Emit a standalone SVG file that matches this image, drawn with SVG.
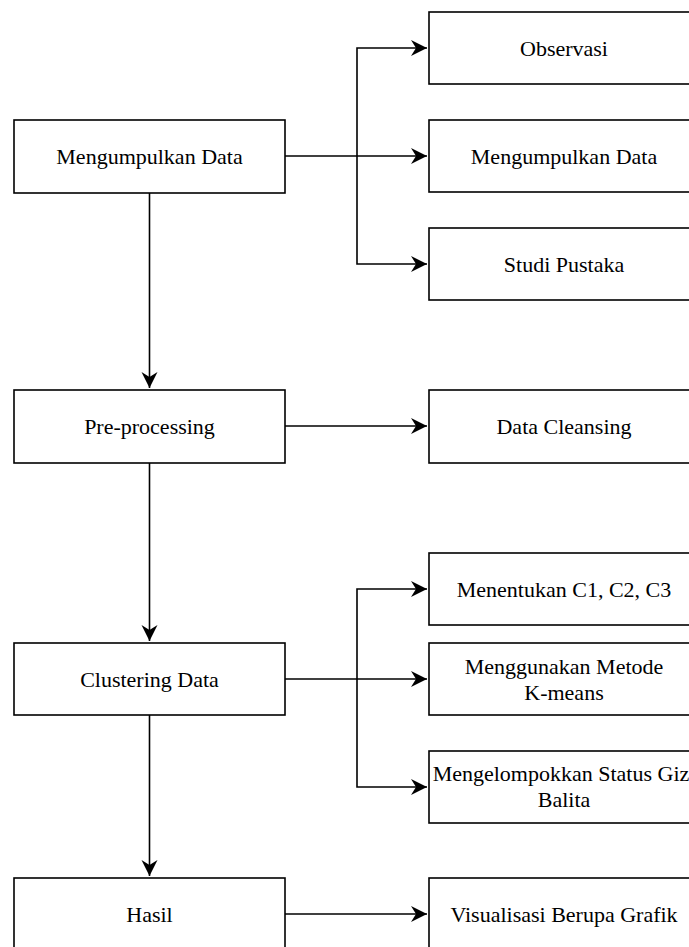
<svg xmlns="http://www.w3.org/2000/svg" width="689" height="947" viewBox="0 0 689 947">
<style>
.box{fill:#fff;stroke:#000;stroke-width:1.6}
.lbl{font-family:"Liberation Serif","Times New Roman",serif;font-size:22px;fill:#000;text-anchor:middle}
.edge{fill:none;stroke:#000;stroke-width:1.6}
</style>
<defs>
<marker id="arr" markerUnits="userSpaceOnUse" markerWidth="18" markerHeight="18" viewBox="-17 -9 18 18" refX="0" refY="0" orient="auto">
<path d="M0,0 L-16,-8 L-11,0 L-16,8 Z" fill="#000"/>
</marker>
</defs>
<rect width="689" height="947" fill="#fff"/>
<g id="connectors">
<path class="edge" d="M285,156 H427" marker-end="url(#arr)"/>
<path class="edge" d="M357,156 V48 H427" marker-end="url(#arr)"/>
<path class="edge" d="M357,156 V264 H427" marker-end="url(#arr)"/>
<path class="edge" d="M149.5,193 V388" marker-end="url(#arr)"/>
<path class="edge" d="M285,426 H427" marker-end="url(#arr)"/>
<path class="edge" d="M149.5,463 V641" marker-end="url(#arr)"/>
<path class="edge" d="M285,679 H427" marker-end="url(#arr)"/>
<path class="edge" d="M357,679 V589 H427" marker-end="url(#arr)"/>
<path class="edge" d="M357,679 V787 H427" marker-end="url(#arr)"/>
<path class="edge" d="M149.5,715 V876" marker-end="url(#arr)"/>
<path class="edge" d="M285,914 H427" marker-end="url(#arr)"/>
</g>
<g id="n-mengumpulkan"><rect class="box" x="14" y="120" width="271" height="73"/><text class="lbl" x="149.5" y="164">Mengumpulkan Data</text></g>
<g id="n-observasi"><rect class="box" x="429" y="12" width="270" height="72"/><text class="lbl" x="564" y="56">Observasi</text></g>
<g id="n-mengumpulkan2"><rect class="box" x="429" y="120" width="270" height="72"/><text class="lbl" x="564" y="164">Mengumpulkan Data</text></g>
<g id="n-studi"><rect class="box" x="429" y="228" width="270" height="72"/><text class="lbl" x="564" y="272">Studi Pustaka</text></g>
<g id="n-preprocessing"><rect class="box" x="14" y="390" width="271" height="73"/><text class="lbl" x="149.5" y="434">Pre-processing</text></g>
<g id="n-cleansing"><rect class="box" x="429" y="390" width="270" height="73"/><text class="lbl" x="564" y="434">Data Cleansing</text></g>
<g id="n-menentukan"><rect class="box" x="429" y="553" width="270" height="72"/><text class="lbl" x="564" y="597">Menentukan C1, C2, C3</text></g>
<g id="n-clustering"><rect class="box" x="14" y="643" width="271" height="72"/><text class="lbl" x="149.5" y="687">Clustering Data</text></g>
<g id="n-kmeans"><rect class="box" x="429" y="643" width="270" height="72"/><text class="lbl" x="564" y="674">Menggunakan Metode</text><text class="lbl" x="564" y="700">K-means</text></g>
<g id="n-mengelompokkan"><rect class="box" x="429" y="751" width="270" height="72"/><text class="lbl" x="564" y="781">Mengelompokkan Status Gizi</text><text class="lbl" x="564" y="807">Balita</text></g>
<g id="n-hasil"><rect class="box" x="14" y="878" width="271" height="73"/><text class="lbl" x="149.5" y="922">Hasil</text></g>
<g id="n-visualisasi"><rect class="box" x="429" y="878" width="270" height="73"/><text class="lbl" x="564" y="922">Visualisasi Berupa Grafik</text></g>
</svg>
